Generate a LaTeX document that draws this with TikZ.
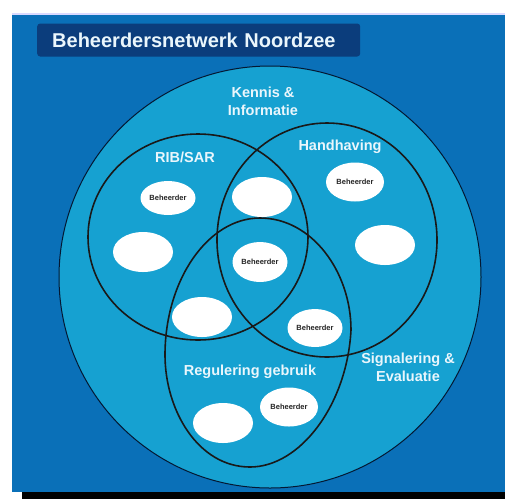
\documentclass[tikz,border=0pt]{standalone}
\usepackage{fontspec}
\setmainfont{Liberation Sans}
\usetikzlibrary{shapes.geometric}
\definecolor{seablue}{HTML}{0A70B8}
\definecolor{ringblue}{HTML}{16A1D1}
\definecolor{titleblue}{HTML}{0B3D7C}
\definecolor{labelwhite}{HTML}{EAF6FC}

\begin{document}
\begin{tikzpicture}[x=1pt,y=-1pt,
		lid/.style={ellipse,fill=white,minimum width=58pt,minimum height=39pt,inner sep=0pt,
			font=\fontsize{7.5}{8}\selectfont\bfseries,text=black!85},
		ring/.style={line width=1.6pt,draw=black!90},
		tag/.style={text=labelwhite,font=\fontsize{14.5}{18}\selectfont\bfseries,align=center}]
		\useasboundingbox (0,0) rectangle (505,499);
		\fill[white] (0,0) rectangle (505,499);
		% sea
		\fill[seablue] (12,15) rectangle (505,492);
		\fill[blue!15!white] (12,13) rectangle (505,15);
		\fill[black] (22,492) rectangle (505,499);
		\node[fill=titleblue,rounded corners=3pt,anchor=west,text width=293pt,inner xsep=15pt,
			minimum height=33pt,text=labelwhite,font=\fontsize{20}{22}\selectfont\bfseries]
			(title) at (37,40) {Beheerdersnetwerk Noordzee};
		% rings
		\draw[fill=ringblue,draw=black!60!titleblue,line width=1pt] (270,277) circle (211);
		\draw[ring] (198,237) ellipse (110 and 103);
		\draw[ring] (327,240) ellipse (110 and 117);
		\draw[ring] (260,218) .. controls (312,218) and (351,272) .. (351,330)
			.. controls (347,405) and (300,467) .. (250,467)
			.. controls (198,467) and (165,410) .. (165,355)
			.. controls (165,280) and (208,218) .. (260,218) -- cycle;
		% labels
		\node[tag] (kennis) at (263,101) {Kennis \&\\Informatie};
		\node[tag] (rib) at (185,157) {RIB/SAR};
		\node[tag] (handhaving) at (340,147) {Handhaving};
		\node[tag] (regulering) at (250,372) {Regulering gebruik};
		\node[tag] (signalering) at (408,367) {Signalering \&\\Evaluatie};
		% beheerders
		\node[lid,minimum width=55pt,minimum height=34pt] (ribbh) at (168,198) {Beheerder};
		\node[lid,minimum width=60pt,minimum height=40pt] (topleeg) at (262,197) {};
		\node[lid] (handbh) at (355,182) {Beheerder};
		\node[lid,minimum width=60pt,minimum height=40pt] (linksleeg) at (143,252) {};
		\node[lid,minimum width=60pt,minimum height=40pt] (rechtsleeg) at (385,245) {};
		\node[lid,minimum width=55pt,minimum height=40pt] (middenbh) at (260,262) {Beheerder};
		\node[lid,minimum width=60pt,minimum height=40pt] (onderleeg) at (202,317) {};
		\node[lid,minimum width=55pt,minimum height=38pt] (onderbh) at (315,328) {Beheerder};
		\node[lid] (regbh) at (289,407) {Beheerder};
		\node[lid,minimum width=60pt,minimum height=40pt] (regleeg) at (223,423) {};
\end{tikzpicture}
\end{document}
